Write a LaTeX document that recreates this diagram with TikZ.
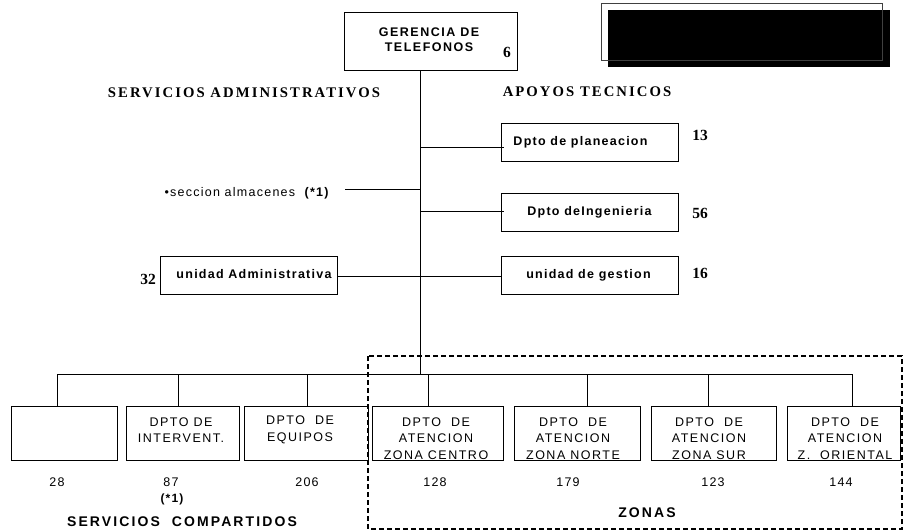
\documentclass[tikz,border=0pt]{standalone}
\usepackage{fontspec}
\setmainfont{Liberation Serif}
\newfontfamily\arl{Liberation Sans}[LetterSpace=10]
\newfontfamily\arlz{Liberation Sans}[LetterSpace=12]
\newfontfamily\arlw{Liberation Sans}[LetterSpace=15]
\newfontfamily\tms{Liberation Serif}[LetterSpace=14]
\begin{document}
\begin{tikzpicture}[x=1pt,y=-1pt,
  box/.style={draw, line width=0.8pt, inner sep=0pt},
  btxt/.style={inner sep=0pt, align=center, font=\arl\bfseries\fontsize{12.5}{15}\selectfont},
  ztxt/.style={inner sep=0pt, align=center, font=\arlz\fontsize{12.5}{16.5}\selectfont},
  num/.style={inner sep=0pt, font=\bfseries\fontsize{15.5}{17}\selectfont},
  bnum/.style={inner sep=0pt, font=\arl\fontsize{12.5}{14}\selectfont},
  head/.style={inner sep=0pt, font=\tms\bfseries\fontsize{14.7}{17}\selectfont},
  foot/.style={inner sep=0pt, font=\arlw\bfseries\fontsize{14}{16}\selectfont},
  conn/.style={line width=0.8pt}]
\useasboundingbox (0,0) rectangle (903,531);

% top-right blacked box
\fill[black] (608,10) rectangle (890,67);
\draw[line width=0.9pt, black!75] (601,3) rectangle (882,60);

% top box
\node[box, minimum width=173pt, minimum height=58pt] (ger) at (430.5,41) {};
\node[btxt, font=\arlz\bfseries\fontsize{12.5}{15}\selectfont] (gert) at (429,39.5) {GERENCIA DE\\TELEFONOS};
\node[num] (n6) at (507,52) {6};

% headings
\node[head] (hsa) at (244,93) {SERVICIOS ADMINISTRATIVOS};
\node[head] (hat) at (587,92) {APOYOS TECNICOS};

% spine
\coordinate (spine) at (420,374);
\draw[conn] (ger.south -| spine) -- (spine);

% right side boxes
\node[box, minimum width=177pt, minimum height=38pt] (plan) at (589.5,142) {};
\node[btxt] at ([xshift=-9pt]plan.center) {Dpto de planeacion};
\node[num] (n13) at (700,135) {13};
\draw[conn] ([yshift=-5pt]plan.west -| spine) -- ([yshift=-5pt,xshift=3pt]plan.west);

\node[box, minimum width=177pt, minimum height=38pt] (ing) at (589.5,212) {};
\node[btxt] at (ing.center) {Dpto deIngenieria};
\node[num] (n56) at (700,213) {56};
\draw[conn] ([yshift=1pt]ing.west -| spine) -- ([yshift=1pt,xshift=3pt]ing.west);

\node[box, minimum width=177pt, minimum height=38pt] (gest) at (589.5,275) {};
\node[btxt] at ([xshift=-1pt]gest.center) {unidad de gestion};
\node[num] (n16) at (700,273) {16};

\node[box, minimum width=177pt, minimum height=38pt] (adm) at (248.5,275) {};
\node[btxt] at ([xshift=5.5pt,yshift=1pt]adm.center) {unidad Administrativa};
\node[num] (n32) at (148,279) {32};
\draw[conn] ([yshift=-1.5pt]adm.east) -- ([yshift=-1.5pt]gest.west);

% seccion almacenes
\node[inner sep=0pt, font=\arl\fontsize{12.5}{14}\selectfont, anchor=east] (alm) at (330,193) {•seccion almacenes\ \ \textbf{(*1)}};
\coordinate (almR) at (345,189);
\draw[conn] (almR) -- (almR -| spine);

% bottom bus
\coordinate (busL) at (57,374);
\coordinate (busR) at (852,374);
\draw[conn] (busL) -- (busR);

\node[box, minimum width=106pt, minimum height=54pt] (b1) at (64,433.7) {};
\node[box, minimum width=113pt, minimum height=54pt] (b2) at (182.5,433.7) {};
\node[box, minimum width=124pt, minimum height=54pt] (b3) at (306,433.7) {};
\node[box, minimum width=131pt, minimum height=54pt] (b4) at (437.5,433.7) {};
\node[box, minimum width=126pt, minimum height=54pt] (b5) at (577,433.7) {};
\node[box, minimum width=125pt, minimum height=54pt] (b6) at (713.5,433.7) {};
\node[box, minimum width=113pt, minimum height=54pt] (b7) at (843.5,433.7) {};

\draw[conn] (busL) -- (busL |- b1.north);
\draw[conn] (178,374) -- ([xshift=-4.5pt]b2.north);
\draw[conn] (307,374) -- ([xshift=1pt]b3.north);
\draw[conn] (428,374) -- ([xshift=-9.5pt]b4.north);
\draw[conn] (587,374) -- ([xshift=10pt]b5.north);
\draw[conn] (708,374) -- ([xshift=-5.5pt]b6.north);
\draw[conn] (busR) -- (busR |- b7.north);

\node[ztxt] at (181,430) {DPTO DE\\INTERVENT.};
\node[ztxt] at (300,430) {DPTO\ \ DE\\EQUIPOS};
\node[ztxt] at (436,438.5) {DPTO\ \ DE\\ATENCION\\ZONA CENTRO};
\node[ztxt] at (573,438.5) {DPTO\ \ DE\\ATENCION\\ZONA NORTE};
\node[ztxt] at (709,438.5) {DPTO\ \ DE\\ATENCION\\ZONA SUR};
\node[ztxt] at (845,438.5) {DPTO\ \ DE\\ATENCION\\Z.\ \ ORIENTAL};

\node[bnum] at (57,482) {28};
\node[bnum] at (171,482) {87};
\node[bnum, font=\arl\bfseries\fontsize{12}{14}\selectfont] at (172,499) {(*1)};
\node[bnum] at (307,482) {206};
\node[bnum] at (435,482) {128};
\node[bnum] at (568,482) {179};
\node[bnum] at (713,482) {123};
\node[bnum] at (841,482) {144};

\node[foot] (sc) at (182,522) {SERVICIOS\ \ COMPARTIDOS};
\node[foot] (zo) at (647,513) {ZONAS};

% dashed zone frame
\draw[line width=1.1pt, dash pattern=on 5pt off 3pt] (368,356) rectangle (902,529);
\end{tikzpicture}
\end{document}
